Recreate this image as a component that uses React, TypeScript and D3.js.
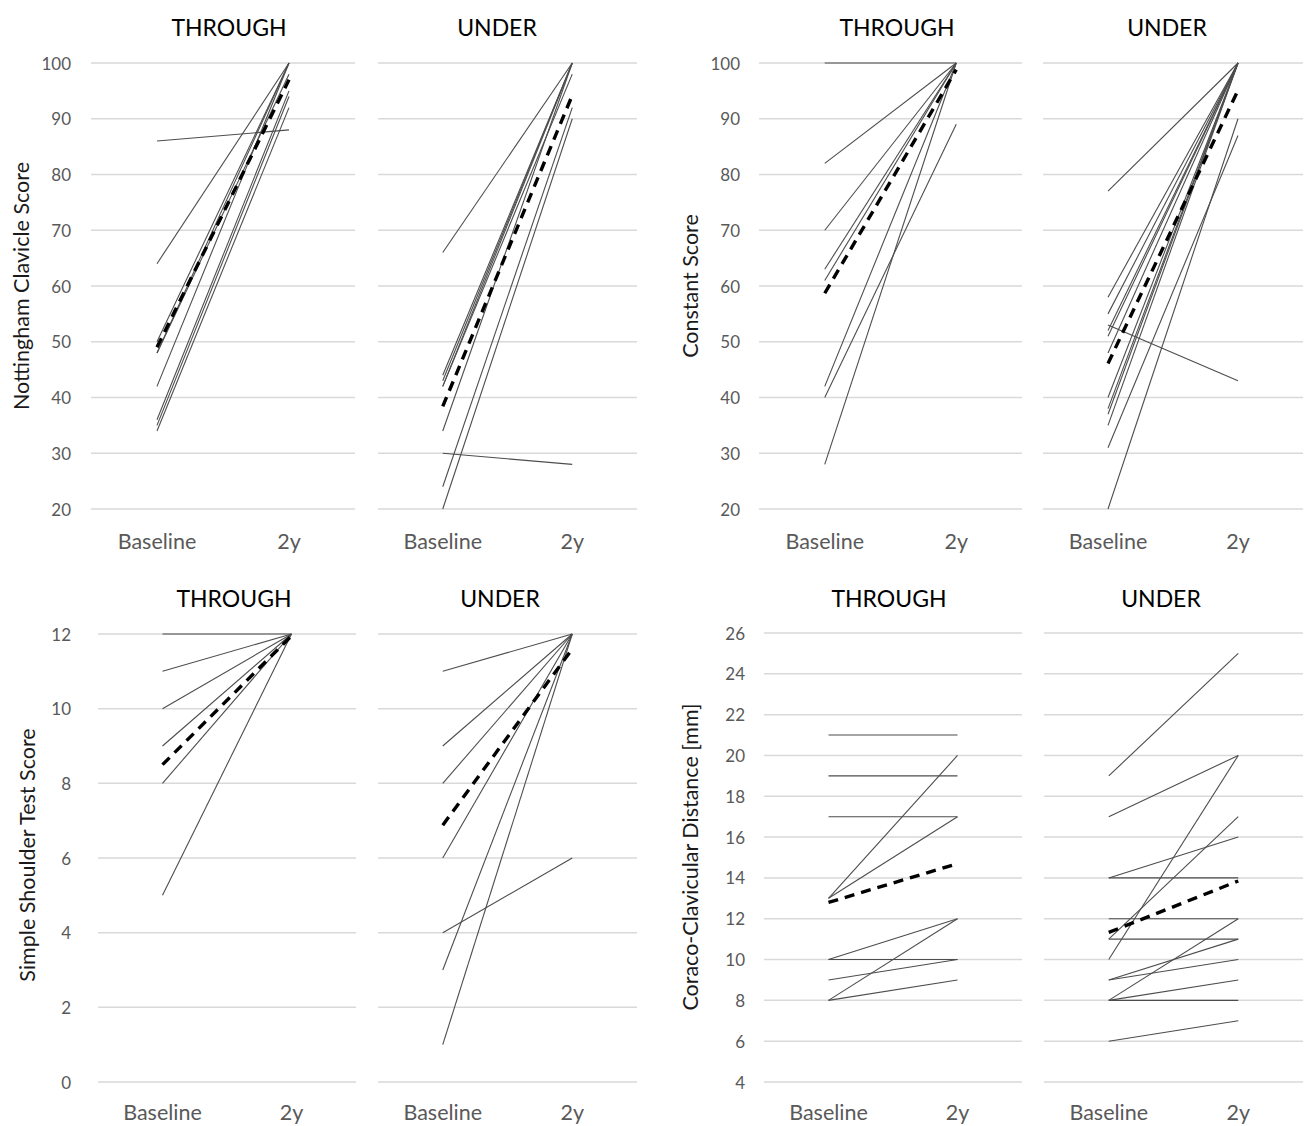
import React from "react";
import * as d3 from "d3";

// ---------- DATA ----------
const timepoints = ["Baseline", "2y"];
const groupTitles = ["THROUGH", "UNDER"];

// Nottingham Clavicle Score
const ncsThroughBaseline = [86, 64, 50, 48, 48, 42, 36, 35, 34];
const ncsThrough2y = [88, 100, 100, 100, 98, 100, 95, 94, 92];
const ncsThroughMean = [49, 97];
const ncsUnderBaseline = [66, 44, 43, 42, 42, 34, 30, 24, 20];
const ncsUnder2y = [100, 100, 100, 100, 98, 100, 28, 92, 90];
const ncsUnderMean = [38.4, 94.2];

// Constant Score
const csThroughBaseline = [100, 82, 70, 63, 61, 42, 40, 28];
const csThrough2y = [100, 100, 100, 100, 100, 100, 89, 100];
const csThroughMean = [58.7, 98.8];
const csUnderBaseline = [77, 58, 55, 53, 52, 51, 48, 40, 38, 37, 35, 31, 20];
const csUnder2y = [100, 100, 100, 43, 100, 100, 100, 100, 100, 100, 100, 87, 90];
const csUnderMean = [46.1, 95.1];

// Simple Shoulder Test Score
const sstThroughBaseline = [12, 11, 10, 9, 8, 5];
const sstThrough2y = [12, 12, 12, 12, 12, 12];
const sstThroughMean = [8.5, 11.95];
const sstUnderBaseline = [11, 9, 8, 6, 4, 3, 1];
const sstUnder2y = [12, 12, 12, 12, 6, 12, 12];
const sstUnderMean = [6.88, 11.6];

// Coraco-Clavicular Distance [mm]
const ccdThroughBaseline = [21, 19, 17, 13, 13, 10, 10, 9, 8, 8];
const ccdThrough2y = [21, 19, 17, 20, 17, 12, 10, 10, 12, 9];
const ccdThroughMean = [12.8, 14.7];
const ccdUnderBaseline = [19, 17, 14, 14, 12, 11, 11, 10, 9, 9, 8, 8, 8, 6];
const ccdUnder2y = [25, 20, 16, 14, 12, 17, 11, 20, 11, 10, 12, 9, 8, 7];
const ccdUnderMean = [11.33, 13.85];

const ncsTicks = [20, 30, 40, 50, 60, 70, 80, 90, 100];
const csTicks = [20, 30, 40, 50, 60, 70, 80, 90, 100];
const sstTicks = [0, 2, 4, 6, 8, 10, 12];
const ccdTicks = [4, 6, 8, 10, 12, 14, 16, 18, 20, 22, 24, 26];

const axisTitles = [
  "Nottingham Clavicle Score",
  "Constant Score",
  "Simple Shoulder Test Score",
  "Coraco-Clavicular Distance [mm]",
];

// ---------- LAYOUT ----------
const FONT = "Lato, 'Open Sans', sans-serif";
const quadrants = [
  {
    title: axisTitles[0], ticks: ncsTicks, domain: [20, 100], yTop: 63, yBot: 509,
    tickX: 71, titleX: 21, titleY: 286, groupTitleY: 27, xLabelY: 541,
    panels: [
      { left: 91, right: 355, titleX: 229, base: ncsThroughBaseline, end: ncsThrough2y, mean: ncsThroughMean },
      { left: 378, right: 637, titleX: 497, base: ncsUnderBaseline, end: ncsUnder2y, mean: ncsUnderMean },
    ],
  },
  {
    title: axisTitles[1], ticks: csTicks, domain: [20, 100], yTop: 63, yBot: 509,
    tickX: 740, titleX: 690, titleY: 286, groupTitleY: 27, xLabelY: 541,
    panels: [
      { left: 759, right: 1022, titleX: 897, base: csThroughBaseline, end: csThrough2y, mean: csThroughMean },
      { left: 1043, right: 1303, titleX: 1167, base: csUnderBaseline, end: csUnder2y, mean: csUnderMean },
    ],
  },
  {
    title: axisTitles[2], ticks: sstTicks, domain: [0, 12], yTop: 634, yBot: 1082,
    tickX: 71, titleX: 27, titleY: 855, groupTitleY: 598, xLabelY: 1112,
    panels: [
      { left: 98, right: 356, titleX: 234, base: sstThroughBaseline, end: sstThrough2y, mean: sstThroughMean },
      { left: 378, right: 637, titleX: 500, base: sstUnderBaseline, end: sstUnder2y, mean: sstUnderMean },
    ],
  },
  {
    title: axisTitles[3], ticks: ccdTicks, domain: [4, 26], yTop: 633, yBot: 1082,
    tickX: 745, titleX: 690, titleY: 857, groupTitleY: 598, xLabelY: 1112,
    panels: [
      { left: 764, right: 1022, titleX: 889, base: ccdThroughBaseline, end: ccdThrough2y, mean: ccdThroughMean },
      { left: 1044, right: 1303, titleX: 1161, base: ccdUnderBaseline, end: ccdUnder2y, mean: ccdUnderMean },
    ],
  },
];

export default function App() {
  return (
    <svg
      width={1306}
      height={1126}
      style={{ position: "absolute", left: 0, top: 0, background: "#fff" }}
      fontFamily={FONT}
    >
      <rect x={0} y={0} width={1306} height={1126} fill="#fff" />
      {quadrants.map((q, qi) => {
        const y = d3.scaleLinear().domain(q.domain).range([q.yBot, q.yTop]);
        const line = d3.line<[number, number]>().x((d) => d[0]).y((d) => d[1]);
        return (
          <g key={qi}>
            <text
              transform={`translate(${q.titleX},${q.titleY}) rotate(-90)`}
              textAnchor="middle"
              dominantBaseline="central"
              fontSize={21.5}
              fill="#1a1a1a"
            >
              {q.title}
            </text>
            {q.ticks.map((t) => (
              <text
                key={t}
                x={q.tickX}
                y={y(t)}
                textAnchor="end"
                dominantBaseline="central"
                fontSize={17}
                fill="#595959"
              >
                {t}
              </text>
            ))}
            {q.panels.map((p, pi) => {
              const x = d3.scalePoint<string>().domain(timepoints).range([p.left, p.right]).padding(0.5);
              return (
                <g key={pi}>
                  {q.ticks.map((t) => (
                    <line
                      key={t}
                      x1={p.left}
                      x2={p.right}
                      y1={y(t)}
                      y2={y(t)}
                      stroke="#d9d9d9"
                      strokeWidth={1.5}
                    />
                  ))}
                  <text
                    x={p.titleX}
                    y={q.groupTitleY}
                    textAnchor="middle"
                    dominantBaseline="central"
                    fontSize={23}
                    fill="#000"
                  >
                    {groupTitles[pi]}
                  </text>
                  {timepoints.map((tp) => (
                    <text
                      key={tp}
                      x={x(tp)}
                      y={q.xLabelY}
                      textAnchor="middle"
                      dominantBaseline="central"
                      fontSize={21.5}
                      fill="#595959"
                    >
                      {tp}
                    </text>
                  ))}
                  {p.base.map((b, i) => (
                    <path
                      key={i}
                      d={line([
                        [x(timepoints[0])!, y(b)],
                        [x(timepoints[1])!, y(p.end[i])],
                      ]) || ""}
                      fill="none"
                      stroke="#4d4d4d"
                      strokeWidth={1.1}
                    />
                  ))}
                  <path
                    d={line([
                      [x(timepoints[0])!, y(p.mean[0])],
                      [x(timepoints[1])!, y(p.mean[1])],
                    ]) || ""}
                    fill="none"
                    stroke="#000"
                    strokeWidth={3.4}
                    strokeDasharray="10 7"
                  />
                </g>
              );
            })}
          </g>
        );
      })}
    </svg>
  );
}
